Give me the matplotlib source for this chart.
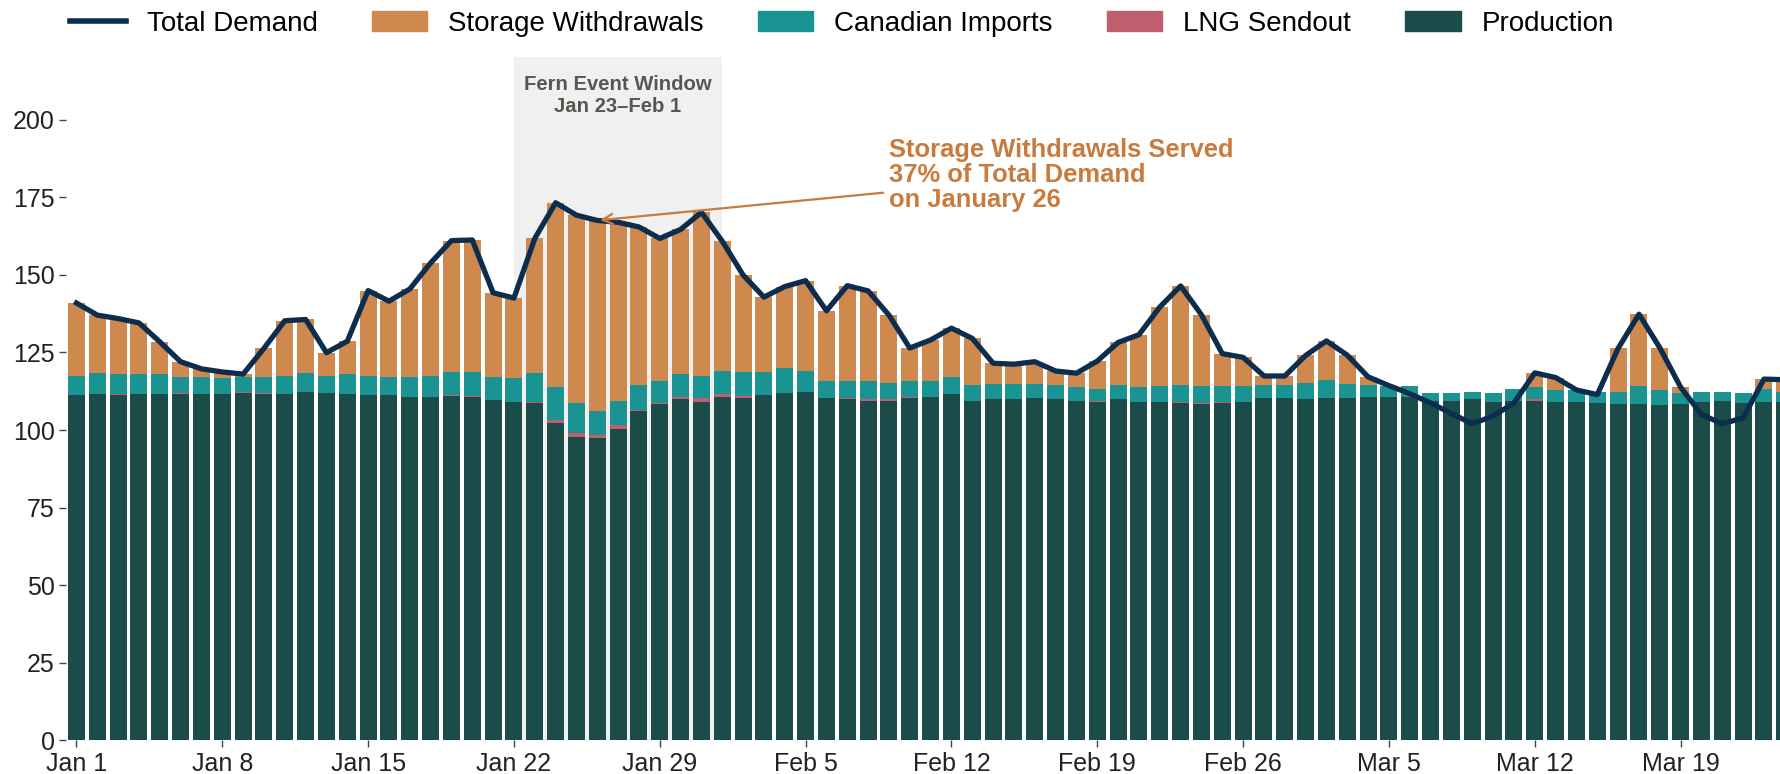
import numpy as np
import matplotlib
matplotlib.use("Agg")
import matplotlib.pyplot as plt
from matplotlib.lines import Line2D
from matplotlib.patches import Patch

plt.rcParams['font.family'] = ['Liberation Sans', 'DejaVu Sans']

# daily values, Jan 1 .. Mar 24
production = [111.2, 111.6, 111.3, 111.6, 111.6, 111.6, 111.6, 111.6, 112.0, 111.7,
              111.6, 112.4, 112.0, 111.6, 111.2, 111.2, 110.7, 110.7, 111.0, 110.7,
              109.6, 109.1, 108.7, 102.1, 97.9, 97.3, 100.2, 106.0, 108.3, 109.9,
              109.1, 110.7, 110.3, 111.2, 112.0, 112.4, 110.3, 109.9, 109.5, 109.5,
              110.3, 110.7, 111.6, 109.5, 109.9, 109.9, 110.3, 109.9, 109.5, 109.1,
              109.9, 109.1, 109.1, 108.7, 108.3, 108.7, 109.1, 110.3, 110.3, 109.9,
              110.3, 110.3, 110.7, 110.7, 110.7, 109.5, 109.5, 109.9, 109.1, 109.5,
              109.5, 109.1, 109.1, 108.7, 108.3, 108.3, 107.9, 108.3, 109.1, 109.5,
              108.7, 109.1, 109.1]
lng = [0.0, 0.0, 0.3, 0.0, 0.0, 0.3, 0.0, 0.0, 0.4, 0.3,
       0.0, 0.0, 0.0, 0.0, 0.0, 0.0, 0.0, 0.0, 0.3, 0.4,
       0.0, 0.0, 0.4, 1.2, 1.1, 1.2, 1.3, 0.5, 0.4, 0.8,
       1.1, 0.8, 0.8, 0.0, 0.0, 0.0, 0.0, 0.4, 0.4, 0.4,
       0.4, 0.0, 0.0, 0.0, 0.0, 0.0, 0.0, 0.0, 0.0, 0.3,
       0.0, 0.0, 0.0, 0.3, 0.4, 0.4, 0.0, 0.0, 0.0, 0.0,
       0.0, 0.0, 0.0, 0.0, 0.0, 0.0, 0.0, 0.0, 0.0, 0.0,
       0.4, 0.0, 0.0, 0.0, 0.0, 0.0, 0.0, 0.0, 0.0, 0.0,
       0.0, 0.0, 0.0]
canada = [6.2, 6.6, 6.3, 6.3, 6.3, 5.1, 5.4, 5.0, 4.6, 5.0,
          5.8, 5.8, 5.4, 6.3, 6.2, 5.8, 6.3, 6.7, 7.4, 7.6,
          7.4, 7.5, 9.1, 10.4, 9.7, 7.5, 8.0, 8.1, 7.0, 7.2,
          7.2, 7.6, 7.6, 7.5, 8.0, 6.7, 5.4, 5.4, 5.8, 5.4,
          5.0, 5.0, 5.4, 5.1, 5.0, 5.0, 4.6, 4.7, 4.2, 3.9,
          4.7, 4.6, 5.0, 5.6, 5.4, 5.0, 5.0, 4.3, 4.3, 5.4,
          5.9, 4.6, 3.9, 3.4, 3.4, 2.5, 2.5, 2.5, 2.9, 3.8,
          3.8, 3.8, 3.8, 3.7, 4.1, 5.8, 5.0, 3.7, 3.3, 2.9,
          3.3, 4.2, 3.3]
storage = [23.5, 18.8, 18.0, 16.6, 10.5, 5.0, 2.7, 2.1, 1.0, 9.3,
           17.8, 17.4, 7.5, 10.7, 27.5, 24.5, 28.4, 36.4, 42.3, 42.5,
           27.2, 25.9, 43.5, 59.5, 60.5, 61.5, 57.4, 50.8, 46.0, 46.7,
           52.7, 41.7, 31.2, 24.1, 26.2, 29.0, 22.7, 30.8, 29.1, 21.7,
           10.7, 13.3, 15.8, 14.9, 6.6, 6.3, 7.1, 4.4, 4.6, 8.9,
           13.6, 17.0, 25.5, 31.8, 23.0, 10.5, 9.3, 2.8, 2.8, 8.7,
           12.5, 9.2, 2.5, 0.0, 0.0, 0.0, 0.0, 0.0, 0.0, 0.0,
           4.7, 4.0, 0.0, 0.0, 13.9, 23.2, 13.6, 1.8, 0.0, 0.0,
           0.0, 3.1, 3.8]
demand = [140.9, 137.0, 135.9, 134.5, 128.4, 122.0, 119.7, 118.7, 118.0, 126.3,
          135.2, 135.6, 124.9, 128.6, 144.9, 141.5, 145.4, 153.8, 161.0, 161.2,
          144.2, 142.5, 161.7, 173.2, 169.2, 167.5, 166.9, 165.4, 161.7, 164.6,
          170.1, 160.8, 149.9, 142.8, 146.2, 148.1, 138.4, 146.5, 144.8, 137.0,
          126.4, 129.0, 132.8, 129.5, 121.5, 121.2, 122.0, 119.0, 118.3, 122.2,
          128.2, 130.7, 139.6, 146.4, 137.1, 124.6, 123.4, 117.4, 117.4, 124.0,
          128.7, 124.1, 117.1, 114.3, 111.7, 108.7, 105.3, 102.0, 104.5, 108.7,
          118.4, 116.9, 112.9, 111.4, 126.3, 137.3, 126.5, 113.8, 105.0, 102.0,
          103.9, 116.4, 116.2]

tick_pos = [0, 7, 14, 21, 28, 35, 42, 49, 56, 63, 70, 77]
tick_labels = ['Jan 1', 'Jan 8', 'Jan 15', 'Jan 22', 'Jan 29', 'Feb 5',
               'Feb 12', 'Feb 19', 'Feb 26', 'Mar 5', 'Mar 12', 'Mar 19']

c_prod = '#1c4c4a'
c_lng = '#c05e70'
c_can = '#1a9393'
c_sto = '#cf884e'
c_line = '#0c2d4e'
c_note = '#c97b3d'

x = np.arange(len(demand))
prod = np.array(production)
lng_a = np.array(lng)
can = np.array(canada)
sto = np.array(storage)

fig = plt.figure(figsize=(17.8, 7.74), dpi=100)
ax = fig.add_axes([0.0371, 0.0433, 0.9629, 0.8825])

ax.axvspan(21, 31, color='#f0f0f0', zorder=0, lw=0)

w = 0.82
ax.bar(x, prod, width=w, color=c_prod, lw=0, zorder=2)
ax.bar(x, lng_a, width=w, bottom=prod, color=c_lng, lw=0, zorder=2)
ax.bar(x, can, width=w, bottom=prod + lng_a, color=c_can, lw=0, zorder=2)
ax.bar(x, sto, width=w, bottom=prod + lng_a + can, color=c_sto, lw=0, zorder=2)
ax.plot(x, demand, color=c_line, lw=3.8, zorder=4)

ax.text(26, 214.5, 'Fern Event Window\nJan 23\u2013Feb 1', ha='center', va='top',
        fontsize=14.6, fontweight='bold', color='#5a5550', linespacing=1.2)

ax.annotate('Storage Withdrawals Served\n37% of Total Demand\non January 26',
            xy=(25, demand[25]), xytext=(39, 182), ha='left', va='center',
            fontsize=18.4, fontweight='bold', color=c_note, linespacing=1.05,
            arrowprops=dict(arrowstyle='->', color=c_note, lw=1.6), zorder=5)

ax.set_xlim(-0.5, 81.77)
ax.set_ylim(0, 220)
ax.set_yticks(range(0, 201, 25))
ax.set_xticks(tick_pos)
ax.set_xticklabels(tick_labels)
for s in ax.spines.values():
    s.set_visible(False)
ax.tick_params(axis='both', labelsize=18, length=5, width=1, color='#444444',
               labelcolor='#222222', pad=3)

handles = [Line2D([0], [0], color=c_line, lw=4),
           Patch(color=c_sto), Patch(color=c_can), Patch(color=c_lng), Patch(color=c_prod)]
labels = ['Total Demand', 'Storage Withdrawals', 'Canadian Imports', 'LNG Sendout', 'Production']
fig.legend(handles, labels, loc='upper center', bbox_to_anchor=(842 / 1780, 1.018), ncol=5,
           frameon=False, fontsize=20, handlelength=2.0, handleheight=0.72,
           columnspacing=1.95, handletextpad=0.75)

fig.savefig('out.png', dpi=100)
